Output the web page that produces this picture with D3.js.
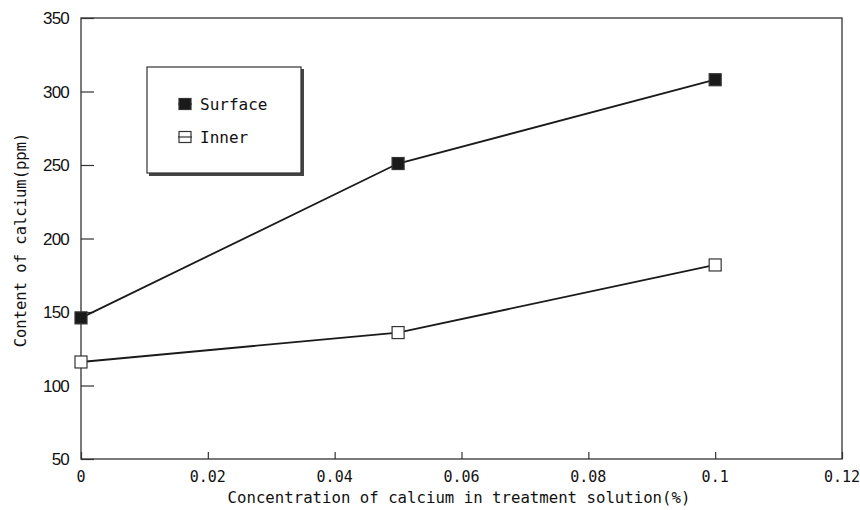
<!DOCTYPE html>
<html>
<head>
<meta charset="utf-8">
<script src="https://cdn.jsdelivr.net/npm/d3@7"></script>
<style>
  body { margin: 0; background: #fff; }
  text { fill: #111; }
</style>
</head>
<body>
<div id="chart"></div>
<script>
const concentrations = [0, 0.05, 0.1];
const surfaceValues = [146, 251, 308];
const innerValues = [116, 136, 182];
const xTicks = [0, 0.02, 0.04, 0.06, 0.08, 0.1, 0.12];
const xTickLabels = ["0", "0.02", "0.04", "0.06", "0.08", "0.1", "0.12"];
const yTicks = [50, 100, 150, 200, 250, 300, 350];
const seriesNames = ["Surface", "Inner"];

const width = 860, height = 510;
const margin = { top: 18, right: 18, bottom: 51, left: 81 };

const svg = d3.select("#chart").append("svg")
  .attr("width", width)
  .attr("height", height);

const x = d3.scaleLinear().domain([0, 0.12]).range([margin.left, width - margin.right]);
const y = d3.scaleLinear().domain([50, 350]).range([height - margin.bottom, margin.top]);

const monoFont = "'DejaVu Sans Mono', monospace";
const narrowFont = "'Liberation Sans Narrow', 'Liberation Sans', Arial, sans-serif";

// frame
svg.append("rect")
  .attr("x", x(0)).attr("y", y(350))
  .attr("width", x(0.12) - x(0)).attr("height", y(50) - y(350))
  .attr("fill", "none").attr("stroke", "#333").attr("stroke-width", 1.3);

// y axis, ticks point inward
const yAxis = svg.append("g")
  .attr("transform", `translate(${x(0)},0)`)
  .call(d3.axisRight(y).tickValues(yTicks).tickSize(13).tickFormat(""));
yAxis.select(".domain").remove();
yAxis.selectAll("line").attr("stroke", "#333").attr("stroke-width", 1.2);

svg.append("g").selectAll("text")
  .data(yTicks)
  .join("text")
  .attr("x", x(0) - 12)
  .attr("y", d => y(d) + 6)
  .attr("text-anchor", "end")
  .attr("font-family", narrowFont)
  .attr("font-size", 17)
  .attr("letter-spacing", -0.8)
  .text(d => d);

// x axis, ticks point inward
const xAxis = svg.append("g")
  .attr("transform", `translate(0,${y(50)})`)
  .call(d3.axisTop(x).tickValues(xTicks).tickSize(7).tickFormat(""));
xAxis.select(".domain").remove();
xAxis.selectAll("line").attr("stroke", "#333").attr("stroke-width", 1.2);

svg.append("g").selectAll("text")
  .data(xTicks)
  .join("text")
  .attr("x", d => x(d))
  .attr("y", y(50) + 23)
  .attr("text-anchor", "middle")
  .attr("font-family", monoFont)
  .attr("font-size", 15)
  .text((d, i) => xTickLabels[i]);

// axis titles
svg.append("text")
  .attr("x", 459)
  .attr("y", 503)
  .attr("text-anchor", "middle")
  .attr("font-family", monoFont)
  .attr("font-size", 15.7)
  .text("Concentration of calcium in treatment solution(%)");

svg.append("text")
  .attr("transform", "translate(26,240) rotate(-90)")
  .attr("text-anchor", "middle")
  .attr("font-family", monoFont)
  .attr("font-size", 15.5)
  .text("Content of calcium(ppm)");

// lines
const series = [
  { name: seriesNames[0], values: surfaceValues, filled: true },
  { name: seriesNames[1], values: innerValues, filled: false }
];

const line = d3.line()
  .x((d, i) => x(concentrations[i]))
  .y(d => y(d));

const mk = 12;
series.forEach(s => {
  svg.append("path")
    .datum(s.values)
    .attr("fill", "none")
    .attr("stroke", "#1a1a1a")
    .attr("stroke-width", 1.8)
    .attr("d", line);

  svg.append("g").selectAll("rect")
    .data(s.values)
    .join("rect")
    .attr("x", (d, i) => x(concentrations[i]) - mk / 2)
    .attr("y", d => y(d) - mk / 2)
    .attr("width", mk).attr("height", mk)
    .attr("fill", s.filled ? "#1a1a1a" : "#fff")
    .attr("stroke", "#333")
    .attr("stroke-width", 1.2);
});

// legend
const lg = svg.append("g").attr("transform", "translate(147,67)");
lg.append("rect")
  .attr("x", 2).attr("y", 2).attr("width", 155).attr("height", 107)
  .attr("fill", "#444");
lg.append("rect")
  .attr("width", 154).attr("height", 106)
  .attr("fill", "#fff").attr("stroke", "#333").attr("stroke-width", 1.2);

series.forEach((s, i) => {
  const cy = 37 + i * 33;
  lg.append("line")
    .attr("x1", 31).attr("x2", 45)
    .attr("y1", cy).attr("y2", cy)
    .attr("stroke", "#333").attr("stroke-width", 1.2);
  lg.append("rect")
    .attr("x", 32).attr("y", cy - 5.5)
    .attr("width", 12).attr("height", 11)
    .attr("fill", s.filled ? "#1a1a1a" : "none")
    .attr("stroke", "#333").attr("stroke-width", 1.2);
  lg.append("text")
    .attr("x", 53).attr("y", cy + 6)
    .attr("font-family", monoFont)
    .attr("font-size", 16)
    .text(s.name);
});
</script>
</body>
</html>
